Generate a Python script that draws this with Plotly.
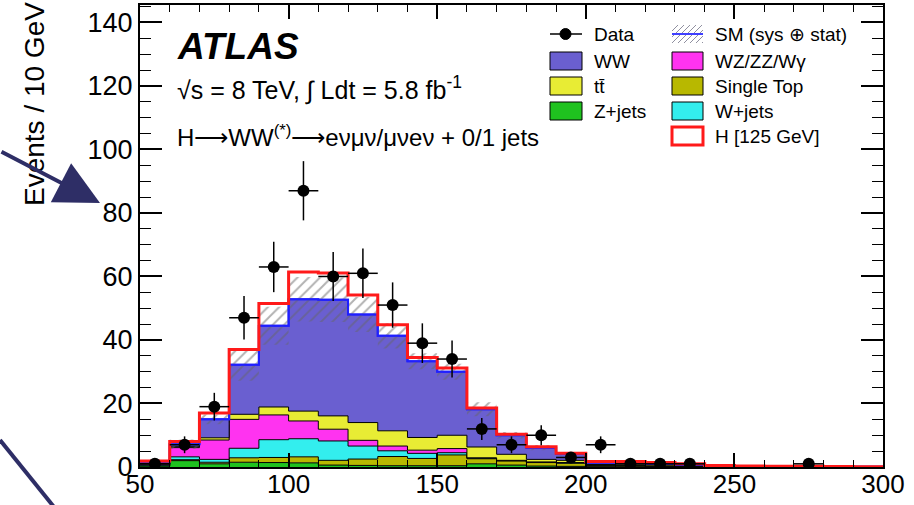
import numpy as np
import plotly.graph_objects as go

# ---------------- data ----------------
bin_low = list(range(50, 300, 10))          # 10 GeV bins, 50..300
Z_jets     = [0.3, 2.0, 1.0, 1.5, 1.4, 1.3, 0.6, 0.5, 0.4, 0.4, 0.4, 1.0, 0.6, 0.3, 0.2, 0.1, 0.1, 0.05, 0.05, 0, 0, 0, 0, 0, 0]
single_top = [0.1, 0.3, 0.5, 1.4, 1.6, 1.9, 1.5, 2.0, 2.9, 2.3, 3.4, 1.6, 1.3, 1.1, 1.0, 0.3, 0.3, 0.2, 0.1, 0.05, 0.05, 0, 0, 0, 0]
W_jets     = [0.3, 0.9, 0.9, 3.0, 5.6, 5.7, 6.1, 4.1, 1.8, 1.6, 0.7, 0.2, 0.1, 0.1, 0.1, 0.05, 0.05, 0, 0, 0, 0, 0, 0, 0, 0]
WZ_ZZ_Wg   = [0.3, 2.9, 6.1, 9.1, 7.8, 5.6, 3.7, 1.8, 1.5, 1.0, 1.3, 0.1, 0.1, 0.1, 0.1, 0.05, 0.05, 0.05, 0.05, 0, 0, 0, 0, 0, 0]
ttbar      = [0.1, 0.3, 0.7, 1.6, 2.5, 3.1, 4.2, 5.6, 4.8, 4.0, 4.2, 3.4, 1.9, 0.8, 0.7, 0.3, 0.4, 0.3, 0.2, 0.1, 0.05, 0.05, 0.05, 0, 0]
WW         = [0.6, 0.8, 5.8, 15.6, 25.6, 35.2, 36.6, 34.0, 29.9, 24.0, 20.0, 11.9, 6.0, 3.7, 2.0, 0.6, 0.5, 0.5, 0.4, 0.25, 0.2, 0.2, 0.15, 0.15, 0.1]
Higgs125   = [0.2, 0.8, 2.0, 4.8, 7.0, 8.6, 8.4, 6.2, 3.5, 1.2, 1.2, 0.4, 0.3, 0.3, 0.2, 0.3, 0.3, 0.3, 0.2, 0.05, 0, 0, 0, 0, 0]
sm_uncert  = [0.3, 1.5, 1.5, 5.0, 6.0, 7.0, 7.0, 5.5, 4.0, 2.5, 2.5, 2.2, 1.0, 0.8, 0.5, 0.3, 0.3, 0.2, 0.15, 0.1, 0.1, 0.05, 0.05, 0.05, 0.05]
data_counts = [1, 7, 19, 47, 63, 87, 60, 61, 51, 39, 34, 12, 7, 10, 3, 7, 1, 1, 1, 0, 0, 0, 1, 0, 0]

bin_width = 10
x_ticks = [50, 100, 150, 200, 250, 300]
y_ticks = [0, 20, 40, 60, 80, 100, 120, 140]

# ---------------- layout constants ----------------
W_PX, H_PX = 914, 505
L, R, T, B = 140, 883, 5, 467
FONT = "Liberation Sans, Arial, Helvetica, sans-serif"

def px(x):
    return (x - L) / (R - L)

def py(y):
    return (B - y) / (B - T)

edges = np.array(bin_low + [bin_low[-1] + bin_width], dtype=float)

def step(vals):
    v = list(vals)
    return v + [v[-1]]

components = [
    ("Z+jets", Z_jets, "#1fc21f"),
    ("Single Top", single_top, "#b8b800"),
    ("W+jets", W_jets, "#33eeee"),
    ("WZ/ZZ/Wγ", WZ_ZZ_Wg, "#ff33f0"),
    ("tt̄", ttbar, "#e8ec34"),
    ("WW", WW, "#6a5fd0"),
]

fig = go.Figure()
cum = np.zeros(len(bin_low))
for i, (name, vals, col) in enumerate(components):
    cum = cum + np.array(vals, dtype=float)
    is_top = (name == "WW")
    fig.add_trace(go.Scatter(
        x=edges, y=step(cum), mode="lines", line_shape="hv",
        line=dict(color="#2020ff" if is_top else "black", width=2 if is_top else 1),
        fill="tozeroy" if i == 0 else "tonexty", fillcolor=col,
        showlegend=False, hoverinfo="skip"))

sm_total = cum.copy()
err = np.array(sm_uncert, dtype=float)
# uncertainty band (hatched)
fig.add_trace(go.Scatter(x=edges, y=step(np.maximum(sm_total - err, 0)), mode="lines",
                         line_shape="hv", line=dict(color="rgba(0,0,0,0)", width=0),
                         showlegend=False, hoverinfo="skip"))
fig.add_trace(go.Scatter(x=edges, y=step(sm_total + err), mode="lines", line_shape="hv",
                         line=dict(color="rgba(0,0,0,0)", width=0),
                         fill="tonexty", fillcolor="rgba(0,0,0,0)",
                         fillpattern=dict(shape="/", fgcolor="#666666", bgcolor="rgba(0,0,0,0)",
                                          size=8, solidity=0.25),
                         showlegend=False, hoverinfo="skip"))
# SM line
fig.add_trace(go.Scatter(x=edges, y=step(sm_total), mode="lines", line_shape="hv",
                         line=dict(color="#2020ff", width=2), showlegend=False, hoverinfo="skip"))
# Higgs stacked on top (outline)
fig.add_trace(go.Scatter(x=edges, y=step(sm_total + np.array(Higgs125)), mode="lines",
                         line_shape="hv", line=dict(color="#ff1a1a", width=3),
                         showlegend=False, hoverinfo="skip"))

# data
centers = [b + bin_width / 2 for b in bin_low]
dx = [c for c, n in zip(centers, data_counts) if n > 0]
dy = [n for n in data_counts if n > 0]
fig.add_trace(go.Scatter(
    x=dx, y=dy, mode="markers",
    marker=dict(color="black", size=12),
    error_y=dict(type="data", array=[np.sqrt(n) for n in dy], color="black", thickness=1.5, width=0),
    error_x=dict(type="constant", value=bin_width / 2, color="black", thickness=1.5, width=0),
    showlegend=False, hoverinfo="skip"))

# ---------------- axes ----------------
fig.update_xaxes(range=[50, 300], tickvals=x_ticks, ticks="inside", ticklen=14, tickwidth=1.5,
                 tickcolor="black", showline=True, linecolor="black", linewidth=2, mirror="ticks",
                 showgrid=False, zeroline=False, automargin=False, ticklabelstandoff=-7,
                 minor=dict(dtick=10, ticks="inside", ticklen=7, tickwidth=1.2, tickcolor="black"),
                 tickfont=dict(family=FONT, size=26, color="black"))
fig.update_yaxes(range=[0, 145.5], tickvals=y_ticks, ticks="inside", ticklen=22, tickwidth=1.5,
                 tickcolor="black", showline=True, linecolor="black", linewidth=2, mirror="ticks",
                 showgrid=False, zeroline=False, automargin=False,
                 minor=dict(dtick=5, ticks="inside", ticklen=11, tickwidth=1.2, tickcolor="black"),
                 tickfont=dict(family=FONT, size=27, color="black"))

shapes = []
annotations = []

# y title
annotations.append(dict(x=px(34), y=py(104), xref="paper", yref="paper", text="Events / 10 GeV",
                        textangle=-90, showarrow=False, font=dict(family=FONT, size=28, color="black"),
                        xanchor="center", yanchor="middle"))

# header texts
annotations.append(dict(x=px(175), y=py(46), xref="paper", yref="paper",
                        text="<b><i>ATLAS</i></b>", showarrow=False, xanchor="left", yanchor="middle",
                        font=dict(family=FONT, size=37, color="black")))
annotations.append(dict(x=px(175), y=py(89), xref="paper", yref="paper",
                        text="√s = 8 TeV, ∫ Ldt = 5.8 fb<sup>-1</sup>", showarrow=False,
                        xanchor="left", yanchor="middle", font=dict(family=FONT, size=25, color="black")))
annotations.append(dict(x=px(175), y=py(136), xref="paper", yref="paper",
                        text="H⟶WW<sup>(*)</sup>⟶eνμν/μνeν + 0/1 jets", showarrow=False,
                        xanchor="left", yanchor="middle", font=dict(family=FONT, size=24, color="black")))

# ---------------- legend (drawn manually) ----------------
rows = [34, 61, 86, 111, 136]
c1x0, c1x1, c1t = 550, 582, 592
c2x0, c2x1, c2t = 672, 703, 713
bh = 9
leg_font = dict(family=FONT, size=19, color="black")

def box(x0, x1, yc, fill, line="black", lw=1):
    shapes.append(dict(type="rect", xref="paper", yref="paper", x0=px(x0), x1=px(x1),
                       y0=py(yc + bh), y1=py(yc - bh), fillcolor=fill,
                       line=dict(color=line, width=lw)))

def label(x, yc, text):
    annotations.append(dict(x=px(x), y=py(yc), xref="paper", yref="paper", text=text,
                            showarrow=False, xanchor="left", yanchor="middle", font=leg_font))

# Data
shapes.append(dict(type="line", xref="paper", yref="paper", x0=px(c1x0), x1=px(c1x1),
                   y0=py(rows[0]), y1=py(rows[0]), line=dict(color="black", width=1.5)))
shapes.append(dict(type="circle", xref="paper", yref="paper", x0=px(560), x1=px(571),
                   y0=py(rows[0] + 5.5), y1=py(rows[0] - 5.5), fillcolor="black",
                   line=dict(color="black", width=1)))
label(c1t, rows[0], "Data")
box(c1x0, c1x1, rows[1], "#6a5fd0"); label(c1t, rows[1], "WW")
box(c1x0, c1x1, rows[2], "#e8ec34"); label(c1t, rows[2], "tt̄")
box(c1x0, c1x1, rows[3], "#1fc21f"); label(c1t, rows[3], "Z+jets")

# SM hatched glyph
yt, yb = rows[0] - bh, rows[0] + bh
for t in range(-18, 32, 6):
    xs, ys, xe, ye = c2x0 + t, yb, c2x0 + t + 18, yt
    if xs < c2x0:
        ys -= (c2x0 - xs); xs = c2x0
    if xe > c2x1:
        ye += (xe - c2x1); xe = c2x1
    if xe > xs:
        shapes.append(dict(type="line", xref="paper", yref="paper", x0=px(xs), x1=px(xe),
                           y0=py(ys), y1=py(ye), line=dict(color="#9090a0", width=1)))
shapes.append(dict(type="line", xref="paper", yref="paper", x0=px(c2x0), x1=px(c2x1),
                   y0=py(rows[0]), y1=py(rows[0]), line=dict(color="#4040ff", width=2)))
label(c2t, rows[0], "SM (sys ⊕ stat)")
box(c2x0, c2x1, rows[1], "#ff33f0"); label(c2t, rows[1], "WZ/ZZ/Wγ")
box(c2x0, c2x1, rows[2], "#b8b800"); label(c2t, rows[2], "Single Top")
box(c2x0, c2x1, rows[3], "#33eeee"); label(c2t, rows[3], "W+jets")
box(c2x0, c2x1, rows[4], "white", line="#ff1a1a", lw=3); label(c2t, rows[4], "H [125 GeV]")

# ---------------- slide decorations outside the plot ----------------
annotations.append(dict(x=px(100), y=py(203), xref="paper", yref="paper", ax=-100, ay=-52,
                        axref="pixel", ayref="pixel", text="", showarrow=True, arrowhead=2,
                        arrowsize=2.2, arrowwidth=4, arrowcolor="#2e2e66"))
shapes.append(dict(type="line", xref="paper", yref="paper", x0=px(0), y0=py(440),
                   x1=px(54), y1=py(507), line=dict(color="#2e2e66", width=4)))

fig.update_layout(
    width=W_PX, height=H_PX,
    margin=dict(l=L, r=W_PX - R, t=T, b=H_PX - B, pad=0, autoexpand=False),
    paper_bgcolor="white", plot_bgcolor="white",
    shapes=shapes, annotations=annotations, showlegend=False,
    font=dict(family=FONT, color="black"),
)

fig.write_html("out.html", config={"displayModeBar": False},
               post_script="document.body.style.margin='0px';document.body.style.overflow='hidden';")
